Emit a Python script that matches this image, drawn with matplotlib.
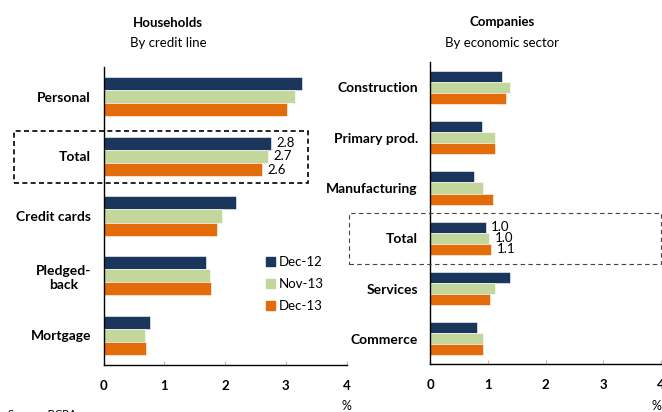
import numpy as np
import matplotlib.pyplot as plt
from matplotlib.patches import Rectangle, Patch

plt.rcParams['font.family'] = ['Lato', 'DejaVu Sans']

# Data (% of loans)
series = ["Dec-12", "Nov-13", "Dec-13"]
colors = ["#1b365d", "#c3d69b", "#e36c0a"]

hh_cats = ["Personal", "Total", "Credit cards", "Pledged-\nback", "Mortgage"]
hh_dec12 = [3.26, 2.75, 2.18, 1.68, 0.76]
hh_nov13 = [3.15, 2.70, 1.95, 1.75, 0.69]
hh_dec13 = [3.02, 2.61, 1.86, 1.77, 0.70]
hh_total_labels = ["2.8", "2.7", "2.6"]

co_cats = ["Construction", "Primary prod.", "Manufacturing", "Total", "Services", "Commerce"]
co_dec12 = [1.24, 0.90, 0.76, 0.96, 1.39, 0.81]
co_nov13 = [1.38, 1.12, 0.91, 1.02, 1.12, 0.91]
co_dec13 = [1.31, 1.13, 1.08, 1.06, 1.04, 0.91]
co_total_labels = ["1.0", "1.0", "1.1"]

xticks = [0, 1, 2, 3, 4]

W, H = 662, 412
fig = plt.figure(figsize=(W / 100, H / 100), dpi=100)


def px_axes(x0, y0, x1, y1):
    return fig.add_axes([x0 / W, 1 - y1 / H, (x1 - x0) / W, (y1 - y0) / H])


def draw_panel(ax, cats, vals, total_labels):
    n = len(cats)
    y = np.arange(n)
    h = 0.22
    for k, (v, c) in enumerate(zip(vals, colors)):
        ax.barh(y + (k - 1) * h, v, height=h, color=c, edgecolor="white", linewidth=0.4)
    ti = cats.index("Total")
    for k, lab in enumerate(total_labels):
        ax.annotate(lab, (vals[k][ti], ti + (k - 1) * h), xytext=(4, 0),
                    textcoords="offset points", va="center", ha="left", fontsize=9.5)
    ax.set_ylim(n - 0.5, -0.5)
    ax.set_xlim(0, 4)
    ax.set_yticks(y)
    ax.set_yticklabels(cats, fontweight="bold", fontsize=10, multialignment="center")
    ax.tick_params(axis="y", length=0, pad=9)
    ax.set_xticks(xticks)
    ax.set_xticklabels([str(t) for t in xticks], fontweight="bold", fontsize=9.5)
    ax.tick_params(axis="x", direction="in", length=3, color="#bbbbbb", pad=11)
    for s in ["top", "right"]:
        ax.spines[s].set_visible(False)
    ax.spines["left"].set_linewidth(1.0)
    ax.spines["bottom"].set_linewidth(1.0)


ax1 = px_axes(103.5, 67, 346.6, 365)
draw_panel(ax1, hh_cats, [hh_dec12, hh_nov13, hh_dec13], hh_total_labels)

ax2 = px_axes(430.3, 62.3, 660.7, 364)
draw_panel(ax2, co_cats, [co_dec12, co_nov13, co_dec13], co_total_labels)

# dashed boxes round the totals
fig.patches.append(Rectangle((14.3 / W, 1 - 183.3 / H), 294 / W, 52.6 / H,
                             transform=fig.transFigure, fill=False, ec="black",
                             lw=1.2, ls=(0, (3, 2))))
fig.patches.append(Rectangle((349.3 / W, 1 - 264 / H), 312 / W, 50.7 / H,
                             transform=fig.transFigure, fill=False, ec="#444444",
                             lw=0.8, ls=(0, (4, 3))))

# legend
handles = [Patch(color=c, label=s) for s, c in zip(series, colors)]
fig.legend(handles=handles, loc="upper left", bbox_to_anchor=(266 / W, 1 - 256 / H),
           frameon=False, fontsize=9.5, handlelength=0.7, handleheight=0.7,
           handletextpad=0.3, labelspacing=0.75, borderpad=0, borderaxespad=0)

# titles
fig.text(168 / W, 1 - 23 / H, "Households", ha="center", va="center", fontweight="bold", fontsize=9.5)
fig.text(168 / W, 1 - 43 / H, "By credit line", ha="center", va="center", fontsize=9.5)
fig.text(502 / W, 1 - 22 / H, "Companies", ha="center", va="center", fontweight="bold", fontsize=9.5)
fig.text(502 / W, 1 - 43 / H, "By economic sector", ha="center", va="center", fontsize=9.5)

fig.text(346 / W, 1 - 406 / H, "%", ha="center", va="center", fontsize=9)
fig.text(656 / W, 1 - 406 / H, "%", ha="center", va="center", fontsize=9)
fig.text(8 / W, 1 - 409 / H, "Source: BCRA", ha="left", va="top", fontsize=8)

fig.savefig("out.png", dpi=100)
